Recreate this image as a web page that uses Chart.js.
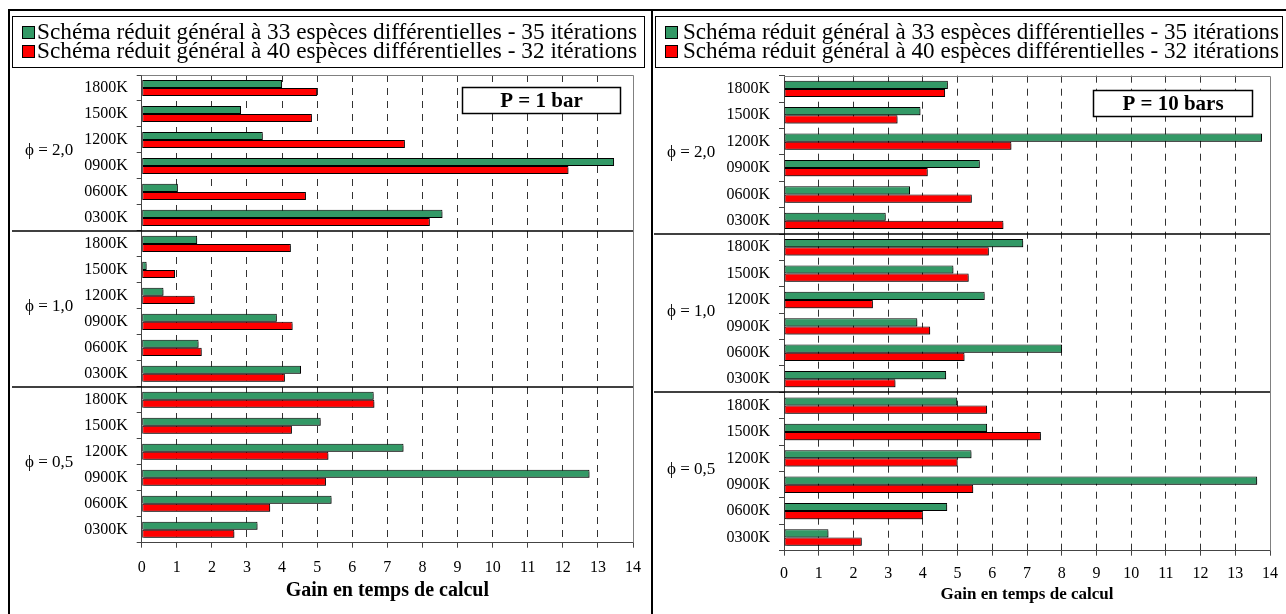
<!DOCTYPE html>
<html>
<head>
<meta charset="utf-8">
<script src="https://cdn.jsdelivr.net/npm/chart.js@4.4.1/dist/chart.umd.min.js"></script>
<style>
  html, body { margin: 0; background: #fff; width: 1286px; height: 614px; overflow: hidden; position: relative; }
  .frame { position: absolute; border: 2px solid #000; box-sizing: border-box; }
  canvas { position: absolute; }
</style>
</head>
<body>
<div class="frame" style="left:8px;top:9px;width:645px;height:700px"></div>
<div class="frame" style="left:651px;top:9px;width:700px;height:700px"></div>
<canvas id="chart-1bar" width="641" height="603" style="left:10px;top:11px"></canvas>
<canvas id="chart-10bars" width="633" height="603" style="left:653px;top:11px"></canvas>
<script>
const FONT = "'Liberation Serif', 'Times New Roman', serif";

// categories, top to bottom
const temperatures = ["1800K", "1500K", "1200K", "0900K", "0600K", "0300K"];
const phiGroups = ["ϕ = 2,0", "ϕ = 1,0", "ϕ = 0,5"];
const seriesNames = [
  "Schéma réduit général à 33 espèces différentielles - 35 itérations",
  "Schéma réduit général à 40 espèces différentielles - 32 itérations"
];
const seriesColors = ["#339966", "#ff0000"];
const pressureLabels = ["P = 1 bar", "P = 10 bars"];
const axisTitle = "Gain en temps de calcul";
const gainMin = 0;
const gainMax = 14;

// P = 1 bar
const gain1Bar33 = [4.0, 2.83, 3.45, 13.46, 1.03, 8.57, 1.58, 0.14, 0.62, 3.85, 1.62, 4.54, 6.61, 5.10, 7.46, 12.76, 5.41, 3.30];
const gain1Bar40 = [5.0, 4.85, 7.5, 12.16, 4.68, 8.21, 4.25, 0.95, 1.51, 4.30, 1.71, 4.08, 6.63, 4.28, 5.32, 5.25, 3.66, 2.64];
// P = 10 bars
const gain10Bars33 = [4.72, 3.93, 13.77, 5.64, 3.63, 2.93, 6.89, 4.88, 5.78, 3.84, 8.01, 4.67, 4.99, 5.85, 5.40, 13.63, 4.70, 1.28];
const gain10Bars40 = [4.64, 3.27, 6.55, 4.14, 5.41, 6.32, 5.90, 5.32, 2.56, 4.21, 5.20, 3.21, 5.85, 7.40, 5.00, 5.45, 4.00, 2.24];

const labels = phiGroups.flatMap(() => temperatures);

const panelDecor = {
  id: "panelDecor",
  beforeDatasetsDraw(chart) {
    const ctx = chart.ctx;
    ctx.save();
    ctx.shadowColor = "rgba(0,0,0,0.4)";
    ctx.shadowOffsetX = 2;
    ctx.shadowOffsetY = 2;
    ctx.shadowBlur = 0;
  },
  afterDatasetsDraw(chart) {
    chart.ctx.restore();
  },
  afterDraw(chart, args, opts) {
    const { ctx, chartArea: area, scales: { y } } = chart;
    ctx.save();

    // plot frame (top + right)
    ctx.strokeStyle = "#808080";
    ctx.lineWidth = 1;
    ctx.beginPath();
    ctx.moveTo(area.left, Math.round(area.top) + 0.5);
    ctx.lineTo(Math.round(area.right) + 0.5, Math.round(area.top) + 0.5);
    ctx.lineTo(Math.round(area.right) + 0.5, area.bottom);
    ctx.stroke();

    // group dividers and phi labels
    const per = temperatures.length;
    ctx.fillStyle = "#000";
    ctx.font = `17px ${FONT}`;
    ctx.textAlign = "left";
    ctx.textBaseline = "middle";
    phiGroups.forEach((name, g) => {
      const first = g * per, last = first + per - 1;
      const mid = (y.getPixelForValue(first) + y.getPixelForValue(last)) / 2;
      ctx.fillText(name, opts.groupX, mid - 2);
      if (g < phiGroups.length - 1) {
        const yy = Math.round((y.getPixelForValue(last) + y.getPixelForValue(last + 1)) / 2);
        ctx.strokeStyle = "#000";
        ctx.lineWidth = 1.5;
        ctx.beginPath();
        ctx.moveTo(opts.dividerX, yy);
        ctx.lineTo(area.right, yy);
        ctx.stroke();
      }
    });

    // legend
    const lg = opts.legend;
    ctx.strokeStyle = "#000";
    ctx.lineWidth = 1;
    ctx.strokeRect(lg.x + 0.5, lg.y + 0.5, lg.w, lg.h);
    chart.data.datasets.forEach((ds, i) => {
      const cy = lg.rows[i];
      ctx.fillStyle = ds.backgroundColor;
      ctx.fillRect(lg.boxX + 0.5, Math.round(cy - 6) + 0.5, 12, 12);
      ctx.strokeStyle = "#000";
      ctx.strokeRect(lg.boxX + 0.5, Math.round(cy - 6) + 0.5, 12, 12);
      ctx.fillStyle = "#000";
      ctx.font = `23px ${FONT}`;
      ctx.textAlign = "left";
      ctx.textBaseline = "middle";
      const w = ctx.measureText(ds.label).width;
      ctx.save();
      ctx.translate(lg.textX, cy + 1);
      ctx.scale(lg.textW / w, 1);
      ctx.fillText(ds.label, 0, 0);
      ctx.restore();
    });

    // pressure box
    const pb = opts.pressure;
    const bx = Math.round(area.right - pb.right - pb.w) + 0.5;
    const by = Math.round(area.top + pb.top) + 0.5;
    ctx.fillStyle = "#fff";
    ctx.fillRect(bx, by, pb.w, pb.h);
    ctx.strokeStyle = "#000";
    ctx.lineWidth = 1.5;
    ctx.strokeRect(bx, by, pb.w, pb.h);
    ctx.fillStyle = "#000";
    ctx.font = `bold 21px ${FONT}`;
    ctx.textAlign = "center";
    ctx.textBaseline = "middle";
    ctx.fillText(pb.text, bx + pb.w / 2, by + pb.h / 2 + 1);

    ctx.restore();
  }
};

function buildChart(selector, green, red, cfg) {
  const dataset = (i, data) => ({
    label: seriesNames[i],
    data,
    backgroundColor: seriesColors[i],
    borderColor: "#000",
    borderWidth: 1,
    borderSkipped: false,
    categoryPercentage: 0.62,
    barPercentage: 1
  });
  return new Chart(document.querySelector(selector), {
    type: "bar",
    data: { labels, datasets: [dataset(0, green), dataset(1, red)] },
    plugins: [panelDecor],
    options: {
      indexAxis: "y",
      responsive: false,
      animation: false,
      layout: { padding: { top: cfg.top, right: cfg.right, left: 0, bottom: 0 } },
      plugins: {
        legend: { display: false },
        tooltip: { enabled: false },
        panelDecor: cfg.decor
      },
      scales: {
        x: {
          min: gainMin,
          max: gainMax,
          ticks: { stepSize: 1, color: "#000", padding: cfg.tickPad, font: { family: FONT, size: 16 } },
          grid: {
            color: (c) => (c.tick && (c.tick.value === gainMin || c.tick.value === gainMax)) ? "rgba(0,0,0,0)" : "#333",
            tickColor: "#444",
            tickLength: 5,
            lineWidth: 1
          },
          border: { display: true, color: "#444", width: 1, dash: [7, 6] },
          title: {
            display: true,
            text: axisTitle,
            color: "#000",
            font: { family: FONT, size: cfg.titleSize, weight: "bold" },
            padding: { top: 0, bottom: cfg.titlePad }
          },
          afterFit(scale) { scale.height = cfg.xHeight; }
        },
        y: {
          ticks: { color: "#000", padding: 9, font: { family: FONT, size: 16 } },
          grid: { drawOnChartArea: false, tickLength: 5, color: "#444" },
          border: { display: true, color: "#444", width: 1 },
          afterFit(scale) { scale.width = cfg.yWidth; }
        }
      }
    }
  });
}

buildChart("#chart-1bar", gain1Bar33, gain1Bar40, {
  top: 64, right: 13.7, yWidth: 131.7, xHeight: 71.3, tickPad: 10, titleSize: 20, titlePad: 11,
  decor: {
    groupX: 15, dividerX: 2,
    legend: { x: 2, y: 5, w: 632, h: 51, boxX: 12, textX: 27, textW: 600, rows: [21, 40.3] },
    pressure: { text: pressureLabels[0], w: 158, h: 26, right: 13.3, top: 12.3 }
  }
});

buildChart("#chart-10bars", gain10Bars33, gain10Bars40, {
  top: 64.7, right: 6, yWidth: 131, xHeight: 63.3, tickPad: 8, titleSize: 17, titlePad: 9,
  decor: {
    groupX: 14, dividerX: 1,
    legend: { x: 2, y: 5, w: 627, h: 51, boxX: 12, textX: 30, textW: 596, rows: [21, 40.3] },
    pressure: { text: pressureLabels[1], w: 159, h: 26, right: 18, top: 14 }
  }
});
</script>
</body>
</html>
